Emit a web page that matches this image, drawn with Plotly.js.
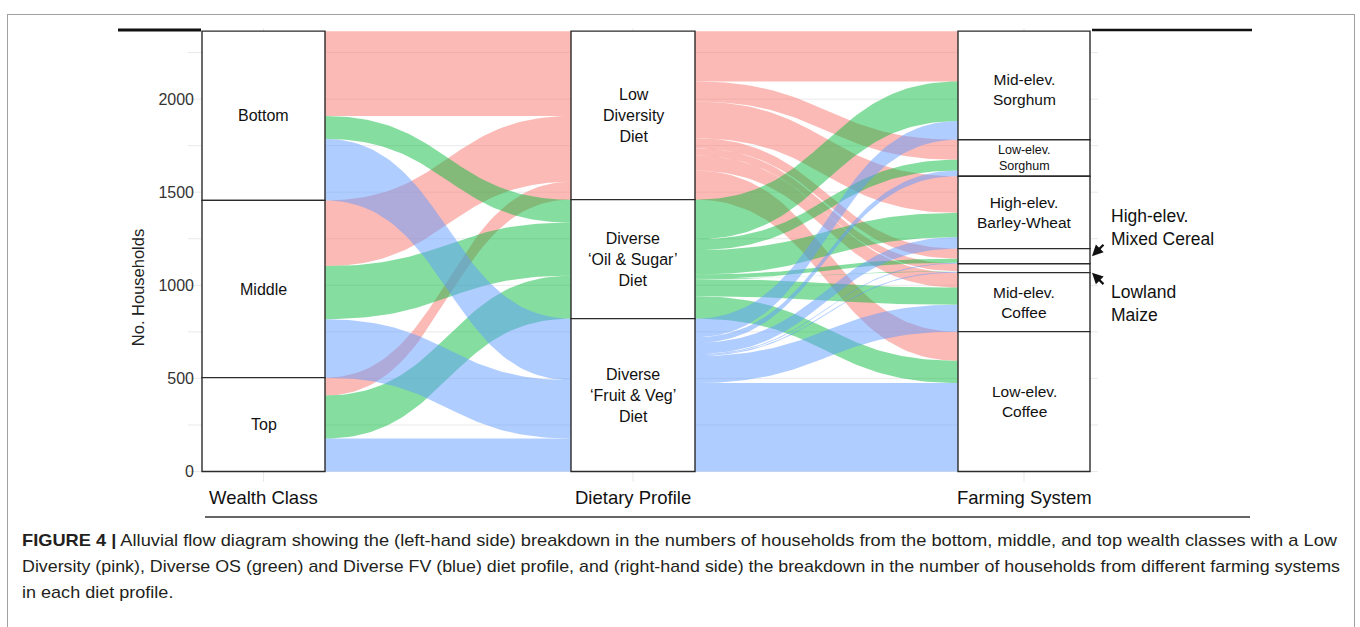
<!DOCTYPE html>
<html>
<head>
<meta charset="utf-8">
<script src="https://cdn.plot.ly/plotly-3.0.1.min.js"></script>
<style>
html,body{margin:0;padding:0;background:#fff;}
#wrap{position:relative;width:1360px;height:627px;overflow:hidden;background:#fff;}
#chart{position:absolute;left:0;top:0;width:1360px;height:627px;}
#frame{position:absolute;left:7px;top:14px;width:1348px;height:700px;border:1px solid #a0a0a0;box-sizing:border-box;pointer-events:none;}
.cap{position:absolute;left:22px;white-space:nowrap;font-family:"Liberation Sans Narrow","Liberation Sans",Arial,sans-serif;font-size:17px;line-height:20px;color:#231f20;transform-origin:0 0;}
</style>
</head>
<body>
<div id="wrap">
<div id="chart"></div>
<div id="frame"></div>
<div class="cap" id="cap1" style="top:531px"><b>FIGURE 4 |</b> Alluvial flow diagram showing the (left-hand side) breakdown in the numbers of households from the bottom, middle, and top wealth classes with a Low</div>
<div class="cap" id="cap2" style="top:557px">Diversity (pink), Diverse OS (green) and Diverse FV (blue) diet profile, and (right-hand side) the breakdown in the number of households from different farming systems</div>
<div class="cap" id="cap3" style="top:583px">in each diet profile.</div>
</div>
<script>
// ---------------- DATA ----------------
const wealthClasses = ['Bottom', 'Middle', 'Top'];                       // top-down
const dietProfiles  = ['Low Diversity', 'Diverse Oil & Sugar', 'Diverse Fruit & Veg'];
const farmSystems   = ['Mid-elev. Sorghum', 'Low-elev. Sorghum', 'High-elev. Barley-Wheat',
                       'High-elev. Mixed Cereal', 'Lowland Maize', 'Mid-elev. Coffee', 'Low-elev. Coffee'];

// households per wealth class (Bottom, Middle, Top) in each diet profile
const lowDiversityByWealth = [456, 353, 96];
const oilSugarByWealth     = [123, 285, 231];
const fruitVegByWealth     = [330, 314, 177];

// households per farming system (same order as farmSystems) in each diet profile
const lowDiversityByFarm = [270, 108, 197, 54, 40, 80, 156];
const oilSugarByFarm     = [213, 58, 131, 22, 3, 92, 120];
const fruitVegByFarm     = [100, 30, 61, 5, 5, 145, 475];

// labels
const wealthLabels = ['Bottom', 'Middle', 'Top'];
const dietLabels = ['Low<br>Diversity<br>Diet', 'Diverse<br>\u2018Oil &amp; Sugar\u2019<br>Diet', 'Diverse<br>\u2018Fruit &amp; Veg\u2019<br>Diet'];
const farmLabels = ['Mid-elev.<br>Sorghum', 'Low-elev.<br>Sorghum', 'High-elev.<br>Barley-Wheat', '', '', 'Mid-elev.<br>Coffee', 'Low-elev.<br>Coffee'];
const farmCallouts = {3: 'High-elev.<br>Mixed Cereal', 4: 'Lowland<br>Maize'};
const axisNames = ['Wealth Class', 'Dietary Profile', 'Farming System'];
const yTicks = [0, 500, 1000, 1500, 2000];
const yTitle = 'No. Households';

// ---------------- LAYOUT CONSTANTS ----------------
const W = 1360, H = 627;
const STRATA_X = [[202, 325], [571, 695], [958, 1090]];   // x extents (axis units = px)
const COLORS = ['rgba(248,118,109,0.5)', 'rgba(0,186,56,0.48)', 'rgba(97,156,255,0.5)'];
const FONT = '"Liberation Sans", Arial, sans-serif';
const pX = px => px / W;
const pY = py => (H - py) / H;

// ---------------- DERIVED ----------------
const dietByWealth = [lowDiversityByWealth, oilSugarByWealth, fruitVegByWealth]; // [diet][wealth]
const dietByFarm = [lowDiversityByFarm, oilSugarByFarm, fruitVegByFarm];         // [diet][farm]
const sum = a => a.reduce((s, v) => s + v, 0);

const wealthTot = wealthClasses.map((_, w) => sum(dietByWealth.map(r => r[w])));
const dietTot = dietByWealth.map(sum);
const farmTot = farmSystems.map((_, f) => sum(dietByFarm.map(r => r[f])));

function strataTops(totals) { // top-down order, stacked from 0 at bottom
  const tops = [];
  for (let i = 0; i < totals.length; i++) tops.push(sum(totals.slice(i)));
  return tops;
}
const wealthTop = strataTops(wealthTot);
const dietTop = strataTops(dietTot);
const farmTop = strataTops(farmTot);

function bez(t, xa, xb) {
  const xm = (xa + xb) / 2, u = 1 - t;
  return u * u * u * xa + 3 * u * t * xm + t * t * t * xb;
}
function flowTrace(xa, xb, a1, a0, b1, b0, color) {
  const n = 60, xs = [], ys = [];
  const s = t => 3 * t * t - 2 * t * t * t;
  for (let i = 0; i <= n; i++) { const t = i / n; xs.push(bez(t, xa, xb)); ys.push(a1 + (b1 - a1) * s(t)); }
  for (let i = n; i >= 0; i--) { const t = i / n; xs.push(bez(t, xa, xb)); ys.push(a0 + (b0 - a0) * s(t)); }
  xs.push(xs[0]); ys.push(ys[0]);
  return {type: 'scatter', mode: 'lines', x: xs, y: ys, fill: 'toself', fillcolor: color,
          line: {width: 0, color: color}, hoverinfo: 'skip', showlegend: false};
}

// positions of each lode
const leftA = {}, leftB = {};
wealthClasses.forEach((_, w) => {
  let cur = wealthTop[w];
  dietProfiles.forEach((_, d) => { const v = dietByWealth[d][w]; leftA[d + '_' + w] = [cur, cur - v]; cur -= v; });
});
dietProfiles.forEach((_, d) => {
  let cur = dietTop[d];
  wealthClasses.forEach((_, w) => { const v = dietByWealth[d][w]; leftB[d + '_' + w] = [cur, cur - v]; cur -= v; });
});
const rightA = {}, rightB = {};
dietProfiles.forEach((_, d) => {
  let cur = dietTop[d];
  farmSystems.forEach((_, f) => { const v = dietByFarm[d][f]; rightA[d + '_' + f] = [cur, cur - v]; cur -= v; });
});
farmSystems.forEach((_, f) => {
  let cur = farmTop[f];
  dietProfiles.forEach((_, d) => { const v = dietByFarm[d][f]; rightB[d + '_' + f] = [cur, cur - v]; cur -= v; });
});

const traces = [];
dietProfiles.forEach((_, d) => {
  wealthClasses.forEach((_, w) => {
    const a = leftA[d + '_' + w], b = leftB[d + '_' + w];
    traces.push(flowTrace(STRATA_X[0][1], STRATA_X[1][0], a[0], a[1], b[0], b[1], COLORS[d]));
  });
  farmSystems.forEach((_, f) => {
    const a = rightA[d + '_' + f], b = rightB[d + '_' + f];
    if (a[0] - a[1] <= 0) return;
    traces.push(flowTrace(STRATA_X[1][1], STRATA_X[2][0], a[0], a[1], b[0], b[1], COLORS[d]));
  });
});

// ---------------- SHAPES ----------------
const shapes = [];
for (let v = 0; v <= 2250; v += 250) {
  shapes.push({type: 'line', xref: 'x', yref: 'y', x0: 188, x1: 1098, y0: v, y1: v, layer: 'below',
               line: {color: '#e9e9e9', width: 1}});
}
STRATA_X.forEach(ex => {
  const c = (ex[0] + ex[1]) / 2;
  shapes.push({type: 'line', xref: 'x', yref: 'y', x0: c, x1: c, y0: -55, y1: 2380, layer: 'below',
               line: {color: '#e9e9e9', width: 1}});
});
function strataRects(tops, totals, ex) {
  tops.forEach((t, i) => {
    shapes.push({type: 'rect', xref: 'x', yref: 'y', x0: ex[0], x1: ex[1], y0: t - totals[i], y1: t,
                 fillcolor: '#ffffff', line: {color: '#2b2b2b', width: 1.4}, layer: 'above'});
  });
}
strataRects(wealthTop, wealthTot, STRATA_X[0]);
strataRects(dietTop, dietTot, STRATA_X[1]);
strataRects(farmTop, farmTot, STRATA_X[2]);
shapes.push({type: 'line', xref: 'paper', yref: 'paper', x0: pX(118), x1: pX(201), y0: pY(30), y1: pY(30), line: {color: '#111', width: 3}});
shapes.push({type: 'line', xref: 'paper', yref: 'paper', x0: pX(1092), x1: pX(1252), y0: pY(30), y1: pY(30), line: {color: '#111', width: 2.5}});
shapes.push({type: 'line', xref: 'paper', yref: 'paper', x0: pX(205), x1: pX(1250), y0: pY(517), y1: pY(517), line: {color: '#333', width: 1.6}});

// ---------------- ANNOTATIONS ----------------
const ann = [];
function strataLabels(labels, tops, totals, ex, size, shift) {
  labels.forEach((lab, i) => {
    if (!lab) return;
    ann.push({xref: 'x', yref: 'y', x: (ex[0] + ex[1]) / 2, y: tops[i] - totals[i] / 2, text: lab,
              yshift: shift ? shift(i) : 0,
              showarrow: false, xanchor: 'center', yanchor: 'middle',
              font: {family: FONT, size: (typeof size === 'function' ? size(i) : size), color: '#111'}});
  });
}
strataLabels(wealthLabels, wealthTop, wealthTot, STRATA_X[0], 16);
strataLabels(dietLabels, dietTop, dietTot, STRATA_X[1], 16);
strataLabels(farmLabels, farmTop, farmTot, STRATA_X[2], i => (i === 1 ? 12.5 : 15.5), i => (i === 0 ? -4 : 0));

const mxc = 3, lm = 4;
ann.push({xref: 'x', yref: 'y', x: STRATA_X[2][1] + 2, y: farmTop[mxc] - farmTot[mxc] / 2, text: '',
          showarrow: true, arrowhead: 2, arrowsize: 1, arrowwidth: 2.2, arrowcolor: '#111', ax: 13, ay: -13, standoff: 0});
ann.push({xref: 'x', yref: 'y', x: 1109, y: farmTop[mxc] - farmTot[mxc] / 2, yshift: 29, text: farmCallouts[mxc],
          showarrow: false, xanchor: 'left', yanchor: 'middle', align: 'left', font: {family: FONT, size: 17.5, color: '#111'}});
ann.push({xref: 'x', yref: 'y', x: STRATA_X[2][1] + 2, y: farmTop[lm] - farmTot[lm], text: '',
          showarrow: true, arrowhead: 2, arrowsize: 1, arrowwidth: 2.2, arrowcolor: '#111', ax: 13, ay: 13, standoff: 0});
ann.push({xref: 'x', yref: 'y', x: 1109, y: farmTop[lm] - farmTot[lm], yshift: -31, text: farmCallouts[lm],
          showarrow: false, xanchor: 'left', yanchor: 'middle', align: 'left', font: {family: FONT, size: 17.5, color: '#111'}});

axisNames.forEach((nm, i) => {
  ann.push({xref: 'x', yref: 'paper', x: (STRATA_X[i][0] + STRATA_X[i][1]) / 2, y: pY(497), text: nm,
            showarrow: false, xanchor: 'center', yanchor: 'middle', font: {family: FONT, size: 18.5, color: '#111'}});
});

// ---------------- LAYOUT ----------------
const layout = {
  width: W, height: H,
  margin: {l: 0, r: 0, t: 0, b: 0},
  paper_bgcolor: 'rgba(0,0,0,0)', plot_bgcolor: 'rgba(0,0,0,0)',
  showlegend: false,
  xaxis: {domain: [0, 1], range: [0, W], visible: false, fixedrange: true},
  yaxis: {domain: [pY(550), pY(25)], range: [-421.6, 2398.0], anchor: 'free', position: pX(194),
          showgrid: false, zeroline: false, showline: false, ticks: '', tickvals: yTicks,
          ticktext: yTicks.map(String), tickfont: {family: FONT, size: 16, color: '#333'},
          title: {text: yTitle, font: {family: FONT, size: 16.5, color: '#222'}, standoff: 8},
          fixedrange: true, automargin: false},
  shapes: shapes,
  annotations: ann,
  font: {family: FONT}
};

Plotly.newPlot('chart', traces, layout, {staticPlot: true, displayModeBar: false}).then(fitCaption);

function fitCaption() {
  const targets = {cap1: 1315, cap2: 1318};
  const scales = [];
  Object.keys(targets).forEach(id => {
    const el = document.getElementById(id);
    const w = el.getBoundingClientRect().width;
    const s = targets[id] / w;
    scales.push(s);
    el.style.transform = 'scaleX(' + s + ')';
  });
  const el3 = document.getElementById('cap3');
  el3.style.transform = 'scaleX(' + (scales[0] + scales[1]) / 2 + ')';
}
</script>
</body>
</html>
